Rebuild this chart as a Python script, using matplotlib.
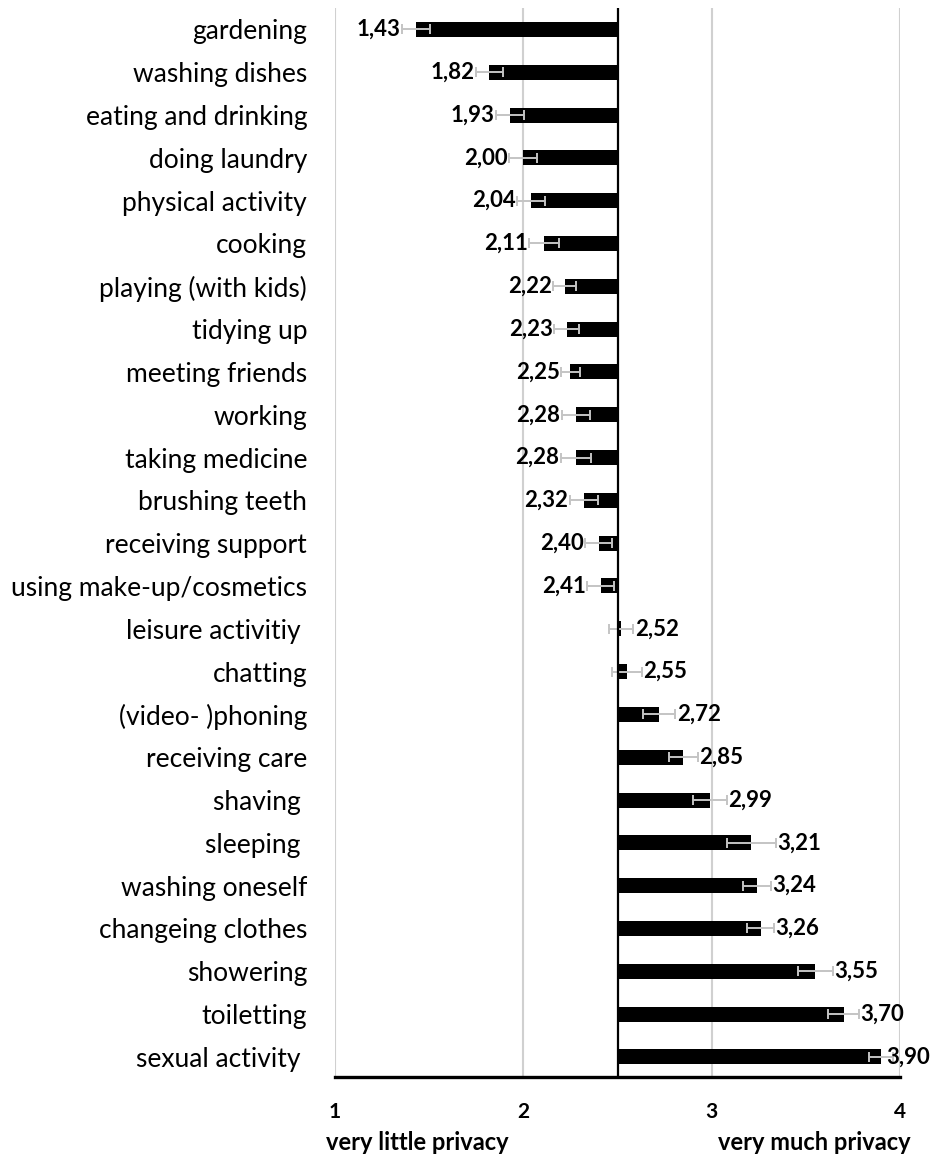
import numpy as np
import matplotlib.pyplot as plt

plt.rcParams['font.family'] = ['Lato', 'DejaVu Sans']

# Activities, mean privacy rating and error
activities = ['gardening', 'washing dishes', 'eating and drinking', 'doing laundry',
              'physical activity', 'cooking', 'playing (with kids)', 'tidying up',
              'meeting friends', 'working', 'taking medicine', 'brushing teeth',
              'receiving support', 'using make-up/cosmetics', 'leisure activitiy ',
              'chatting', '(video- )phoning', 'receiving care', 'shaving ',
              'sleeping ', 'washing oneself', 'changeing clothes', 'showering',
              'toiletting', 'sexual activity ']
means = [1.43, 1.82, 1.93, 2.00, 2.04, 2.11, 2.22, 2.23, 2.25, 2.28, 2.28, 2.32,
         2.40, 2.41, 2.52, 2.55, 2.72, 2.85, 2.99, 3.21, 3.24, 3.26, 3.55, 3.70, 3.90]
errors = [0.076, 0.072, 0.075, 0.074, 0.074, 0.08, 0.062, 0.065, 0.05, 0.076, 0.08,
          0.074, 0.073, 0.071, 0.064, 0.08, 0.087, 0.075, 0.09, 0.13, 0.075, 0.07,
          0.092, 0.08, 0.062]

midpoint = 2.5
x_ticks = [1, 2, 3, 4]

y = np.arange(len(activities))
means = np.array(means)
errors = np.array(errors)

fig = plt.figure(figsize=(9.35, 11.68), dpi=100)
ax = fig.add_axes([335 / 935, 91 / 1168, 565 / 935, 1069 / 1168])

# bars start at the scale midpoint
ax.barh(y, means - midpoint, left=midpoint, height=0.35, color='black', zorder=3)
ax.errorbar(means, y, xerr=errors, fmt='none', ecolor='#c4c4c4', elinewidth=1.4,
            capsize=3.6, capthick=1.4, zorder=4)
ax.axvline(midpoint, color='black', lw=1.6, zorder=5)

# value labels at the end of the whisker (kept inside the figure on the right)
for yi, m, e in zip(y, means, errors):
    txt = f'{m:.2f}'.replace('.', ',')
    if m < midpoint:
        ax.annotate(txt, (m - e, yi), xytext=(-1, 0), textcoords='offset points',
                    ha='right', va='center', fontsize=16, fontweight='bold', zorder=6)
    else:
        ax.annotate(txt, (min(m + e, 3.92), yi), xytext=(1, 0), textcoords='offset points',
                    ha='left', va='center', fontsize=16, fontweight='bold', zorder=6)

ax.set_xlim(1, 4)
ax.set_ylim(len(activities) - 0.53, -0.5)
ax.set_xticks(x_ticks)
ax.set_xticklabels([str(t) for t in x_ticks], fontsize=15, fontweight='bold')
ax.set_yticks(y)
ax.set_yticklabels(activities, fontsize=19)
ax.tick_params(axis='x', length=0, pad=18)
ax.tick_params(axis='y', length=0, pad=20)

ax.grid(axis='x', color='#d0d0d0', lw=1.5, zorder=0)
ax.set_axisbelow(True)
for side in ['top', 'left', 'right']:
    ax.spines[side].set_visible(False)
ax.spines['bottom'].set_linewidth(2.4)

fig.text(326 / 935, 1 - 1143 / 1168, 'very little privacy', ha='left', va='center',
         fontsize=17, fontweight='bold')
fig.text(911 / 935, 1 - 1143 / 1168, 'very much privacy', ha='right', va='center',
         fontsize=17, fontweight='bold')

fig.savefig('out.png', dpi=100)
